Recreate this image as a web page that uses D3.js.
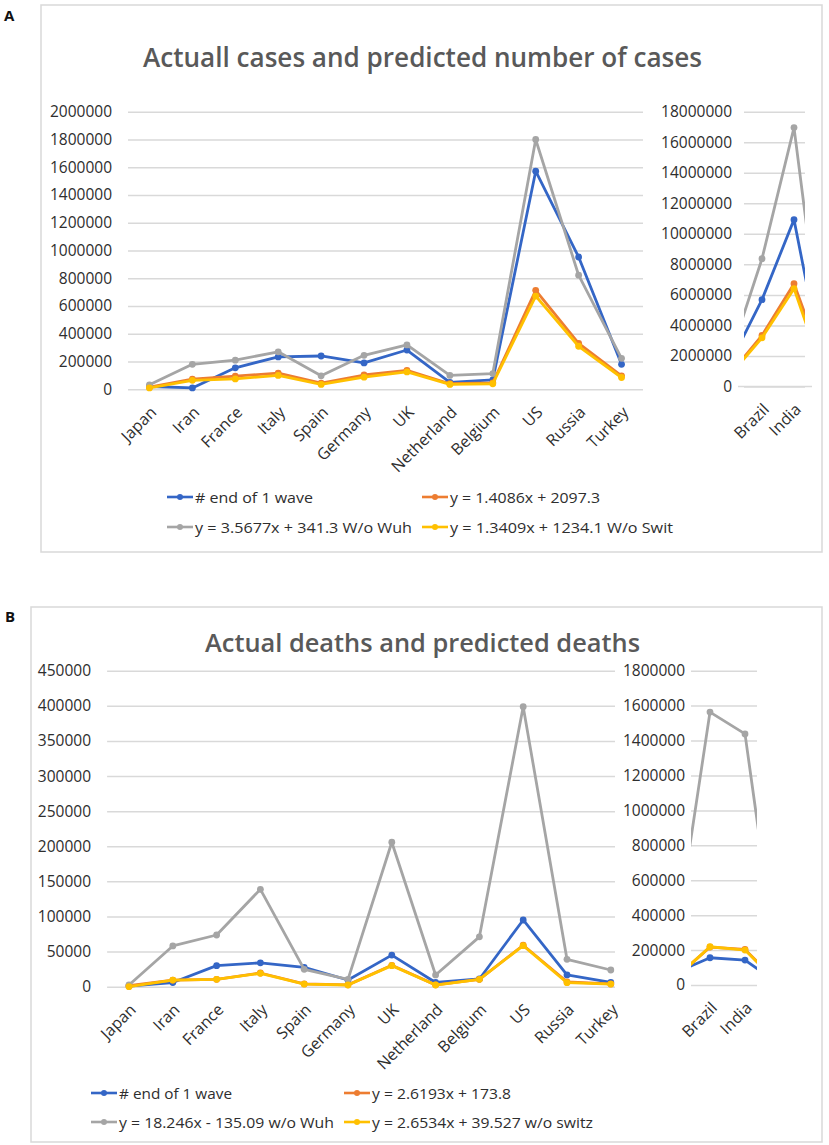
<!DOCTYPE html>
<html>
<head>
<meta charset="utf-8">
<script src="https://cdn.jsdelivr.net/npm/d3@7"></script>
<style>
  body { margin: 0; background: #fff; }
  svg text { font-family: "Open Sans", Lato, sans-serif; }
</style>
</head>
<body>
<div id="chart"></div>
<script>
// categories
const countries = ["Japan", "Iran", "France", "Italy", "Spain", "Germany", "UK", "Netherland", "Belgium", "US", "Russia", "Turkey"];
// right-hand panels only show Brazil and India; the lines run on to neighbours that are cut off
const sideCats = ["before", "Brazil", "India", "after"];
const sideLabels = ["Brazil", "India"];

// A: cases
const casesWave    = [20000, 10000, 155000, 233000, 240000, 190000, 283000, 50000, 68000, 1571000, 953000, 180000];
const casesFit     = [15000, 73000, 95000, 117000, 45000, 103000, 137000, 40000, 47000, 713000, 331000, 97000];
const casesNoWuh   = [32000, 180000, 210000, 270000, 97000, 245000, 320000, 100000, 113000, 1800000, 822000, 223000];
const casesNoSwit  = [10000, 65000, 75000, 100000, 35000, 87000, 125000, 35000, 40000, 672000, 310000, 85000];
const casesWaveSide   = [1520000, 5690000, 10930000, 310000];
const casesFitSide    = [810000, 3340000, 6730000, 1010000];
const casesNoWuhSide  = [1970000, 8370000, 16960000, 560000];
const casesNoSwitSide = [750000, 3190000, 6410000, 360000];
const casesTicks     = d3.range(0, 2000001, 200000);
const casesSideTicks = d3.range(0, 18000001, 2000000);

// B: deaths
const deathsWave   = [1000, 6000, 30000, 34000, 27600, 9500, 45000, 6000, 11000, 95000, 16700, 6000];
const deathsFit    = [1500, 9500, 10500, 19500, 4000, 2600, 30500, 2600, 10500, 59000, 7000, 4000];
const deathsNoWuh  = [2400, 58000, 73600, 138700, 24700, 10500, 205700, 16700, 71000, 398800, 39000, 23800];
const deathsNoSwit = [0, 9500, 10500, 19000, 3800, 2400, 30000, 2400, 10500, 58400, 5700, 3800];
const deathsWaveSide   = [69000, 156000, 143000, 0];
const deathsFitSide    = [40000, 217000, 204000, 0];
const deathsNoWuhSide  = [233000, 1563000, 1438000, 0];
const deathsNoSwitSide = [37000, 219000, 200000, 0];
const deathsTicks     = d3.range(0, 450001, 50000);
const deathsSideTicks = d3.range(0, 1800001, 200000);

const legendA = ["# end of 1 wave", "y = 1.4086x + 2097.3", "y = 3.5677x + 341.3 W/o Wuh", "y = 1.3409x + 1234.1 W/o Swit"];
const legendB = ["# end of 1 wave", "y = 2.6193x + 173.8", "y = 18.246x - 135.09 w/o Wuh", "y = 2.6534x + 39.527 w/o switz"];
const colors = ["#3466c6", "#ed7d31", "#a5a5a5", "#ffc000"];
const textColor = "#2e2e2e";

const svg = d3.select("#chart").append("svg")
    .attr("width", 829)
    .attr("height", 1145);

let clipId = 0;

function drawPanel(p) {
    const g = svg.append("g");

    // frame
    g.append("rect")
        .attr("x", p.frame[0]).attr("y", p.frame[1])
        .attr("width", p.frame[2] - p.frame[0]).attr("height", p.frame[3] - p.frame[1])
        .attr("fill", "none").attr("stroke", "#d9d9d9").attr("stroke-width", 1.5);

    g.append("text")
        .attr("x", p.letter[0]).attr("y", p.letter[1])
        .attr("font-size", 15).attr("font-weight", "bold").attr("fill", "#111")
        .text(p.letterText);

    g.append("text")
        .attr("x", p.title[0]).attr("y", p.title[1])
        .attr("font-size", p.titleSize).attr("font-weight", 600).attr("fill", "#595959")
        .attr("textLength", p.title[2] - p.title[0]).attr("lengthAdjust", "spacingAndGlyphs")
        .text(p.titleText);

    // main chart
    const x = d3.scaleBand().domain(countries).range(p.mainX);
    const y = d3.scaleLinear().domain([0, d3.max(p.mainTicks)]).range(p.mainY);
    grid(g, y, p.mainTicks, p.mainX[0], p.mainGridEnd, p.mainLabelX);
    series(g, x, y, countries, p.mainSeries, null);
    xLabels(g, x, countries, p.mainY[0]);

    // side chart
    const xs = d3.scaleBand().domain(sideCats).range(p.sideX);
    const ys = d3.scaleLinear().domain([0, d3.max(p.sideTicks)]).range(p.sideY);
    grid(g, ys, p.sideTicks, p.sideGrid[0], p.sideGrid[1], p.sideLabelX);
    if (p.sideZero) {
        g.append("line")
            .attr("x1", p.sideZero[0]).attr("x2", p.sideZero[1])
            .attr("y1", ys(0)).attr("y2", ys(0))
            .attr("stroke", "#d9d9d9").attr("stroke-width", 1.5);
    }
    series(g, xs, ys, sideCats, p.sideSeries, p.sideGrid);
    xLabels(g, xs, sideLabels, p.sideY[0]);

    // legend
    p.legend.forEach((name, i) => {
        const lx = p.legendX[i % 2], ly = p.legendY[Math.floor(i / 2)];
        const lg = g.append("g").attr("transform", `translate(${lx},${ly})`);
        lg.append("line").attr("x1", 0).attr("x2", 26).attr("y1", 0).attr("y2", 0)
            .attr("stroke", colors[i]).attr("stroke-width", 2.6);
        lg.append("circle").attr("cx", 13).attr("cy", 0).attr("r", 3).attr("fill", colors[i]);
        lg.append("text").attr("x", 28).attr("y", 5.5)
            .attr("font-size", 15).attr("fill", textColor)
            .attr("textLength", p.legendW[i]).attr("lengthAdjust", "spacingAndGlyphs")
            .text(name);
    });
}

function grid(g, y, ticks, x0, x1, labelX) {
    const ax = g.append("g")
        .attr("transform", `translate(${x0},0)`)
        .call(d3.axisLeft(y).tickValues(ticks).tickSize(-(x1 - x0)).tickPadding(x0 - labelX).tickFormat(d3.format("d")));
    ax.select(".domain").remove();
    ax.selectAll("line").attr("stroke", "#d9d9d9").attr("stroke-width", 1.5);
    ax.selectAll("text")
        .attr("font-size", 15.5).attr("fill", textColor)
        .style("font-family", "'Open Sans', Lato, sans-serif");
}

function series(g, x, y, cats, data, clip) {
    let layer = g.append("g");
    if (clip) {
        const id = "clip" + (clipId++);
        g.append("clipPath").attr("id", id).append("rect")
            .attr("x", clip[0]).attr("y", 0).attr("width", clip[1] - clip[0]).attr("height", 1145);
        layer.attr("clip-path", `url(#${id})`);
    }
    const line = d3.line()
        .x((d, i) => x(cats[i]) + x.bandwidth() / 2)
        .y(d => y(d));
    data.forEach((vals, k) => {
        layer.append("path")
            .attr("d", line(vals))
            .attr("fill", "none")
            .attr("stroke", colors[k])
            .attr("stroke-width", 2.8)
            .attr("stroke-linejoin", "round");
        layer.selectAll(null).data(vals).enter().append("circle")
            .attr("cx", (d, i) => x(cats[i]) + x.bandwidth() / 2)
            .attr("cy", d => y(d))
            .attr("r", 3.4)
            .attr("fill", colors[k]);
    });
}

function xLabels(g, x, labels, axisY) {
    labels.forEach(c => {
        const cx = x(c) + x.bandwidth() / 2 + 8;
        const cy = axisY + 24;
        g.append("text")
            .attr("transform", `translate(${cx},${cy}) rotate(-45)`)
            .attr("text-anchor", "end")
            .attr("font-size", 16).attr("fill", textColor)
            .text(c);
    });
}

drawPanel({
    frame: [41, 5, 822, 552],
    letter: [4, 21], letterText: "A",
    title: [143, 67, 702], titleSize: 27, titleText: "Actuall cases and predicted number of cases",
    mainX: [128, 643], mainY: [389.3, 111.7], mainGridEnd: 643, mainLabelX: 112,
    mainTicks: casesTicks,
    mainSeries: [casesWave, casesFit, casesNoWuh, casesNoSwit],
    sideX: [714, 842], sideY: [386.5, 111.7], sideGrid: [744, 805], sideLabelX: 732, sideZero: [738, 812],
    sideTicks: casesSideTicks,
    sideSeries: [casesWaveSide, casesFitSide, casesNoWuhSide, casesNoSwitSide],
    legend: legendA, legendX: [167, 422], legendY: [497, 527], legendW: [118, 150, 217, 223]
});

drawPanel({
    frame: [31, 607, 822, 1142],
    letter: [5, 622], letterText: "B",
    title: [205, 652, 640], titleSize: 25, titleText: "Actual deaths and predicted deaths",
    mainX: [107.1, 632.7], mainY: [986.7, 670.7], mainGridEnd: 615, mainLabelX: 91,
    mainTicks: deathsTicks,
    mainSeries: [deathsWave, deathsFit, deathsNoWuh, deathsNoSwit],
    sideX: [657.5, 797.5], sideY: [985, 670.7], sideGrid: [691, 757], sideLabelX: 685, sideZero: null,
    sideTicks: deathsSideTicks,
    sideSeries: [deathsWaveSide, deathsFitSide, deathsNoWuhSide, deathsNoSwitSide],
    legend: legendB, legendX: [91, 344], legendY: [1093, 1122], legendW: [113, 139, 215, 221]
});
</script>
</body>
</html>
